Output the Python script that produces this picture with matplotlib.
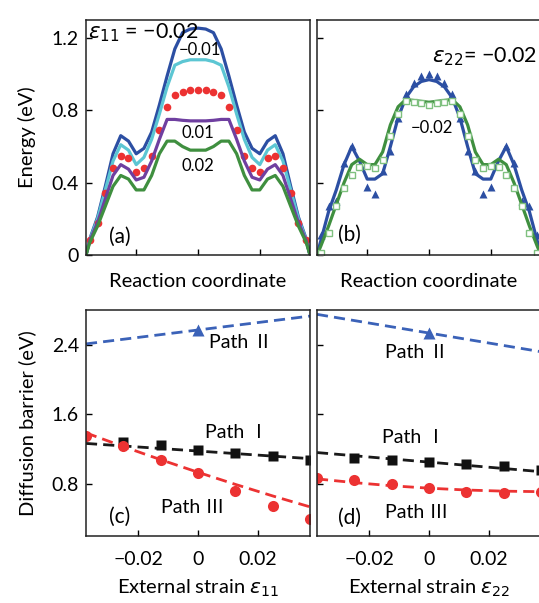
import numpy as np
import matplotlib
matplotlib.use("Agg")
import matplotlib.pyplot as plt

plt.rcParams['font.family'] = ['Lato', 'Noto Sans CJK SC', 'DejaVu Sans']
plt.rcParams['mathtext.fontset'] = 'dejavusans'

# ---- energy profiles along the reaction coordinate (images 0..28) ----
images = list(range(29))
line_pos = [-0.5] + images + [28.5]

e11_m002 = [0, 0.09, 0.21, 0.38, 0.56, 0.66, 0.63, 0.56, 0.59, 0.68, 0.83, 0.99, 1.14, 1.23, 1.25, 1.255,
            1.25, 1.23, 1.14, 0.99, 0.83, 0.68, 0.59, 0.56, 0.63, 0.66, 0.56, 0.38, 0.21, 0.09, 0]
e11_m001 = [0, 0.085, 0.20, 0.36, 0.52, 0.61, 0.58, 0.50, 0.54, 0.64, 0.78, 0.93, 1.05, 1.07, 1.08, 1.08,
            1.08, 1.07, 1.05, 0.93, 0.78, 0.64, 0.54, 0.50, 0.58, 0.61, 0.52, 0.36, 0.20, 0.085, 0]
e11_000 = [0.083, 0.178, 0.343, 0.48, 0.55, 0.534, 0.457, 0.483, 0.55, 0.69, 0.82, 0.884, 0.904, 0.912, 0.915,
           0.912, 0.904, 0.884, 0.82, 0.69, 0.55, 0.483, 0.457, 0.534, 0.55, 0.48, 0.343, 0.178, 0.083]
e11_p001 = [0, 0.08, 0.18, 0.31, 0.44, 0.50, 0.475, 0.415, 0.43, 0.52, 0.64, 0.75, 0.75, 0.745, 0.742, 0.742,
            0.742, 0.745, 0.75, 0.75, 0.64, 0.52, 0.43, 0.415, 0.475, 0.50, 0.44, 0.31, 0.18, 0.08, 0]
e11_p002 = [0, 0.07, 0.16, 0.27, 0.38, 0.44, 0.42, 0.36, 0.36, 0.44, 0.56, 0.63, 0.63, 0.60, 0.58, 0.58,
            0.58, 0.60, 0.63, 0.63, 0.56, 0.44, 0.36, 0.36, 0.42, 0.44, 0.38, 0.27, 0.16, 0.07, 0]

e22_tri_line = [0, 0.08, 0.24, 0.36, 0.50, 0.60, 0.52, 0.42, 0.42, 0.45, 0.60, 0.76, 0.87, 0.93, 0.96, 0.97,
                0.96, 0.93, 0.87, 0.76, 0.60, 0.45, 0.42, 0.42, 0.52, 0.60, 0.50, 0.36, 0.24, 0.08, 0]
e22_tri_pts = [0.11, 0.27, 0.30, 0.51, 0.605, np.nan, 0.376, 0.336, 0.464, 0.578, 0.76, 0.89, 0.954, 0.99, 1.0,
               0.99, 0.954, 0.89, 0.76, 0.578, 0.464, 0.336, 0.376, np.nan, 0.605, 0.51, 0.30, 0.27, 0.11]
e22_sq_line = [0, 0.05, 0.16, 0.28, 0.40, 0.50, 0.53, 0.50, 0.50, 0.57, 0.72, 0.82, 0.86, 0.855, 0.85, 0.845,
               0.85, 0.855, 0.86, 0.82, 0.72, 0.57, 0.50, 0.50, 0.53, 0.50, 0.40, 0.28, 0.16, 0.05, 0]
e22_sq_pts = [0.01, 0.12, 0.27, 0.37, 0.44, 0.486, 0.49, 0.48, 0.527, 0.66, 0.78, 0.853, 0.844, 0.84, 0.83,
              0.84, 0.844, 0.853, 0.78, 0.66, 0.527, 0.48, 0.49, 0.486, 0.44, 0.37, 0.27, 0.12, 0.01]

# ---- diffusion barriers vs external strain ----
strain = [-0.0375, -0.025, -0.0125, 0, 0.0125, 0.025, 0.0375]
edges = [-0.0375, 0.0375]

c_path1 = [np.nan, 1.28, 1.243, 1.19, 1.16, 1.12, 1.07]
c_path1_fit = [1.265, 1.09]
c_path2 = [2.567]
c_path2_fit = [2.41, 2.73]
c_path3 = [1.35, 1.23, 1.08, 0.92, 0.72, 0.55, 0.40]
c_path3_fit = [1.386, 1.229, 1.078, 0.933, 0.794, 0.661, 0.535]

d_path1 = [np.nan, 1.10, 1.07, 1.05, 1.03, 1.00, 0.96]
d_path1_fit = [1.16, 0.94]
d_path2 = [2.54]
d_path2_fit = [2.75, 2.32]
d_path3 = [0.87, 0.84, 0.80, 0.75, 0.71, 0.69, 0.71]
d_path3_fit = [0.857, 0.814, 0.778, 0.75, 0.729, 0.716, 0.71]

BLUE = '#2c4fa3'
CYAN = '#5cc6d3'
RED = '#ec3232'
PURPLE = '#6f3fa0'
GREEN = '#3f8f3f'

W, H = 539, 603
fig = plt.figure(figsize=(W / 100, H / 100), dpi=100)


def box(x0, ytop, w, h):
    return [x0 / W, 1 - (ytop + h) / H, w / W, h / H]


ax_a = fig.add_axes(box(86, 20, 224, 235))
ax_b = fig.add_axes(box(317, 20, 224, 235))
ax_c = fig.add_axes(box(86, 310, 224, 226))
ax_d = fig.add_axes(box(317, 310, 224, 226))

for ax in (ax_a, ax_b, ax_c, ax_d):
    ax.tick_params(direction='in', length=4, width=1, labelsize=14, pad=5)
    for s in ax.spines.values():
        s.set_linewidth(1.1)
        s.set_color('#222222')

# (a) strain along 11
lw = 2.3
ax_a.plot(line_pos, e11_m002, color=BLUE, lw=lw)
ax_a.plot(line_pos, e11_m001, color=CYAN, lw=lw)
ax_a.plot(images, e11_000, 'o', color=RED, ms=5.5, mec='none')
ax_a.plot(line_pos, e11_p001, color=PURPLE, lw=lw)
ax_a.plot(line_pos, e11_p002, color=GREEN, lw=lw)

ax_a.text(0.01, 0.945, r'$\varepsilon_{11}$ = −0.02', transform=ax_a.transAxes, fontsize=15.5,
          ha='left', va='center')
ax_a.text(0.51, 0.872, '−0.01', transform=ax_a.transAxes, fontsize=12, ha='center', va='center')
ax_a.text(0.50, 0.519, '0.01', transform=ax_a.transAxes, fontsize=12, ha='center', va='center')
ax_a.text(0.50, 0.379, '0.02', transform=ax_a.transAxes, fontsize=12, ha='center', va='center')
ax_a.text(0.152, 0.077, '(a)', transform=ax_a.transAxes, fontsize=15, ha='center', va='center')

# (b) strain along 22
ax_b.plot(line_pos, e22_tri_line, color=BLUE, lw=lw)
ax_b.plot(images, e22_tri_pts, '^', color=BLUE, ms=6, mec='none')
ax_b.plot(line_pos, e22_sq_line, color=GREEN, lw=lw)
ax_b.plot(images, e22_sq_pts, 's', mfc='white', mec='#7fc07f', mew=1.0, ms=4.5)

ax_b.text(0.75, 0.843, r'$\varepsilon_{22}$= −0.02', transform=ax_b.transAxes, fontsize=15.5,
          ha='center', va='center')
ax_b.text(0.513, 0.54, '−0.02', transform=ax_b.transAxes, fontsize=12, ha='center', va='center')
ax_b.text(0.147, 0.085, '(b)', transform=ax_b.transAxes, fontsize=15, ha='center', va='center')

for ax in (ax_a, ax_b):
    ax.set_xlim(-0.5, 28.5)
    ax.set_ylim(0, 1.3)
    ax.set_xticks([6, 14, 22])
    ax.set_xticklabels([])
    ax.set_yticks([0, 0.4, 0.8, 1.2])
    ax.set_xlabel('Reaction coordinate', fontsize=14.5, labelpad=8)
ax_a.set_yticklabels(['0', '0.4', '0.8', '1.2'])
ax_b.set_yticklabels([])
ax_a.set_ylabel('Energy (eV)', fontsize=14.5, labelpad=11)

# (c), (d) diffusion barriers
dash = (0, (4, 2.2))
for ax, p1, p1f, p2, p2f, p3, p3f in (
        (ax_c, c_path1, c_path1_fit, c_path2, c_path2_fit, c_path3, c_path3_fit),
        (ax_d, d_path1, d_path1_fit, d_path2, d_path2_fit, d_path3, d_path3_fit)):
    ax.plot(edges, p2f, color='#3b62b8', lw=2, ls=dash)
    ax.plot([0], p2, '^', color='#3b62b8', ms=8, mec='none')
    ax.plot(edges, p1f, color='#1a1a1a', lw=2, ls=dash)
    ax.plot(strain, p1, 's', color='#111111', ms=6.5, mec='none')
    ax.plot(strain, p3f, color=RED, lw=2, ls=dash)
    ax.plot(strain, p3, 'o', color=RED, ms=8, mec='none')
    ax.set_xlim(-0.0375, 0.0375)
    ax.set_ylim(0.2, 2.8)
    ax.set_xticks([-0.02, 0, 0.02])
    ax.set_xticklabels(['−0.02', '0', '0.02'])
    ax.set_yticks([0.8, 1.6, 2.4])
    ax.tick_params(axis='x', pad=11)

ax_c.set_yticklabels(['0.8', '1.6', '2.4'])
ax_d.set_yticklabels([])
ax_c.set_ylabel('Diffusion barrier (eV)', fontsize=14.5, labelpad=11)
ax_c.set_xlabel(r'External strain $\varepsilon_{11}$', fontsize=14.5, labelpad=7)
ax_d.set_xlabel(r'External strain $\varepsilon_{22}$', fontsize=14.5, labelpad=7)

ax_c.text(0.692, 0.854, 'Path Ⅱ', transform=ax_c.transAxes, fontsize=14, ha='center', va='center')
ax_c.text(0.674, 0.46, 'Path Ⅰ', transform=ax_c.transAxes, fontsize=14, ha='center', va='center')
ax_c.text(0.478, 0.124, 'Path Ⅲ', transform=ax_c.transAxes, fontsize=14, ha='center', va='center')
ax_c.text(0.152, 0.084, '(c)', transform=ax_c.transAxes, fontsize=15, ha='center', va='center')

ax_d.text(0.446, 0.814, 'Path Ⅱ', transform=ax_d.transAxes, fontsize=14, ha='center', va='center')
ax_d.text(0.433, 0.434, 'Path Ⅰ', transform=ax_d.transAxes, fontsize=14, ha='center', va='center')
ax_d.text(0.446, 0.106, 'Path Ⅲ', transform=ax_d.transAxes, fontsize=14, ha='center', va='center')
ax_d.text(0.147, 0.08, '(d)', transform=ax_d.transAxes, fontsize=15, ha='center', va='center')

fig.savefig('out.png', dpi=100)
